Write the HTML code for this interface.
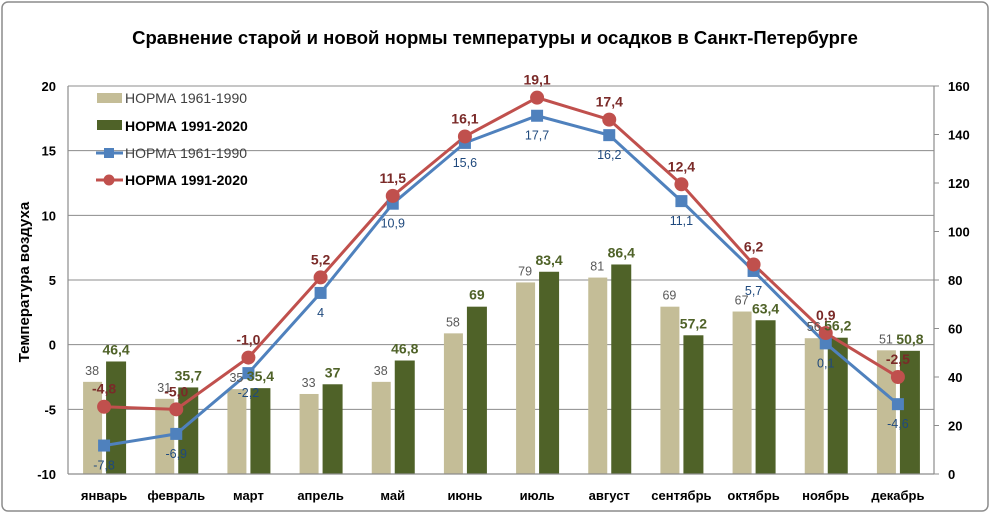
<!DOCTYPE html>
<html><head><meta charset="utf-8">
<style>
html,body{margin:0;padding:0;background:#fff;}
#wrap{position:relative;width:991px;height:514px;overflow:hidden;}
svg{font-family:"Liberation Sans",sans-serif;}
</style></head>
<body>
<div id="wrap">
<svg id="chart" width="991" height="514">
<rect x="2" y="2" width="986" height="509" rx="6" fill="#fff" stroke="#8c8c8c" stroke-width="1.5"/>
<text x="495" y="44" text-anchor="middle" font-size="18.5" font-weight="bold" fill="#000">Сравнение старой и новой нормы температуры и осадков в Санкт-Петербурге</text>
<text transform="translate(29,282) rotate(-90)" text-anchor="middle" font-size="15" font-weight="bold" fill="#000">Температура воздуха</text>
<g id="grid"></g>
<g id="bars"></g>
<g id="lines"></g>
<g id="labels"></g>
<g id="axes"></g>
<g id="legend">
<rect x="97" y="93" width="25" height="10" fill="#c4bd97"/>
<text x="125" y="103" font-size="14" fill="#404040">НОРМА 1961-1990</text>
<rect x="97" y="120" width="25" height="10" fill="#4f6228"/>
<text x="125" y="131" font-size="14" font-weight="bold" fill="#000">НОРМА 1991-2020</text>
<line x1="96" y1="153" x2="123" y2="153" stroke="#4f81bd" stroke-width="3"/>
<rect x="104" y="148" width="10" height="10" fill="#4f81bd"/>
<text x="125" y="158" font-size="14" fill="#404040">НОРМА 1961-1990</text>
<line x1="96" y1="180" x2="123" y2="180" stroke="#c0504d" stroke-width="3"/>
<circle cx="109" cy="180" r="5.5" fill="#c0504d"/>
<text x="125" y="185" font-size="14" font-weight="bold" fill="#000">НОРМА 1991-2020</text>
</g>
</svg>
</div>
<script>
const months = ["январь","февраль","март","апрель","май","июнь","июль","август","сентябрь","октябрь","ноябрь","декабрь"];
const precipOld = [38,31,35,33,38,58,79,81,69,67,56,51];
const precipNew = [46.4,35.7,35.4,37,46.8,69,83.4,86.4,57.2,63.4,56.2,50.8];
const tempOld = [-7.8,-6.9,-2.2,4,10.9,15.6,17.7,16.2,11.1,5.7,0.1,-4.6];
const tempNew = [-4.8,-5.0,-1.0,5.2,11.5,16.1,19.1,17.4,12.4,6.2,0.9,-2.5];
const leftTicks = [20,15,10,5,0,-5,-10];
const rightTicks = [160,140,120,100,80,60,40,20,0];

const NS="http://www.w3.org/2000/svg";
const X0=68,X1=934,YT=86,YB=474;
const bw=(X1-X0)/months.length;
function xc(i){return X0+bw*(i+0.5);}
function yL(v){return YB-(v+10)/30*(YB-YT);}
function yR(v){return YB-v/160*(YB-YT);}
function fmt(v,fixed){let s=fixed?v.toFixed(1):String(v);return s.replace('.',',');}
function mk(tag,attrs,parent,text){const e=document.createElementNS(NS,tag);for(const k in attrs)e.setAttribute(k,attrs[k]);if(text!==undefined)e.textContent=text;parent.appendChild(e);return e;}
const grid=document.getElementById('grid'),bars=document.getElementById('bars'),lines=document.getElementById('lines'),labels=document.getElementById('labels'),axes=document.getElementById('axes');

leftTicks.forEach(t=>{
  const y=yL(t);
  if(t>-10){const l=mk('line',{x1:X0,x2:X1,y1:y,y2:y,stroke:'#8c8c8c','stroke-width':1},grid);
  
  }
  const tx=mk('text',{x:56,y:y+5,'text-anchor':'end','font-size':13,'font-weight':'bold',fill:'#000'},axes,String(t));
  
  
});
rightTicks.forEach(t=>{
  const y=yR(t);
  const tk=mk('line',{x1:X1,x2:X1+5,y1:y,y2:y,stroke:'#8c8c8c'},axes);
  
  
  const tx=mk('text',{x:948,y:y+5,'font-size':13,'font-weight':'bold',fill:'#000'},axes,String(t));
  
  
});
[['y-left-axis',X0,YT,X0,YB],['x-axis',X0,YB,X1,YB],['y-right-axis',X1,YT,X1,YB]].forEach(a=>{
  const l=mk('line',{x1:a[1],y1:a[2],x2:a[3],y2:a[4],stroke:'#8c8c8c','stroke-width':1.2},axes);
  
  
});

months.forEach((m,i)=>{
  const c=xc(i);
  const b1=mk('rect',{x:c-21,y:yR(precipOld[i]),width:19,height:YB-yR(precipOld[i]),fill:'#c4bd97'},bars);
  
  
  const b2=mk('rect',{x:c+2,y:yR(precipNew[i]),width:20,height:YB-yR(precipNew[i]),fill:'#4f6228'},bars);
  
  
  const t1=mk('text',{x:c-12,y:yR(precipOld[i])-7,'text-anchor':'middle','font-size':12.5,fill:'#595959'},labels,fmt(precipOld[i],false));
  
  
  const t2=mk('text',{x:c+12,y:yR(precipNew[i])-7,'text-anchor':'middle','font-size':14,'font-weight':'bold',fill:'#4f6228'},labels,fmt(precipNew[i],false));
  
  
  const xl=mk('text',{x:c,y:500,'text-anchor':'middle','font-size':13,'font-weight':'bold',fill:'#000'},axes,m);
  
  
});

const p1=mk('polyline',{points:tempOld.map((v,i)=>xc(i)+','+yL(v)).join(' '),fill:'none',stroke:'#4f81bd','stroke-width':3},lines);


const p2=mk('polyline',{points:tempNew.map((v,i)=>xc(i)+','+yL(v)).join(' '),fill:'none',stroke:'#c0504d','stroke-width':3},lines);


tempOld.forEach((v,i)=>{
  const r=mk('rect',{x:xc(i)-6,y:yL(v)-6,width:12,height:12,fill:'#4f81bd'},lines);
  
  
  const t=mk('text',{x:xc(i),y:yL(v)+24,'text-anchor':'middle','font-size':12.5,fill:'#1f497d'},labels,fmt(v,false));
  
  
});
tempNew.forEach((v,i)=>{
  const c=mk('circle',{cx:xc(i),cy:yL(v),r:7,fill:'#c0504d'},lines);
  
  
  const t=mk('text',{x:xc(i),y:yL(v)-13,'text-anchor':'middle','font-size':14,'font-weight':'bold',fill:'#7a2a28'},labels,fmt(v,true));
  
  
});
</script>
</body></html>
